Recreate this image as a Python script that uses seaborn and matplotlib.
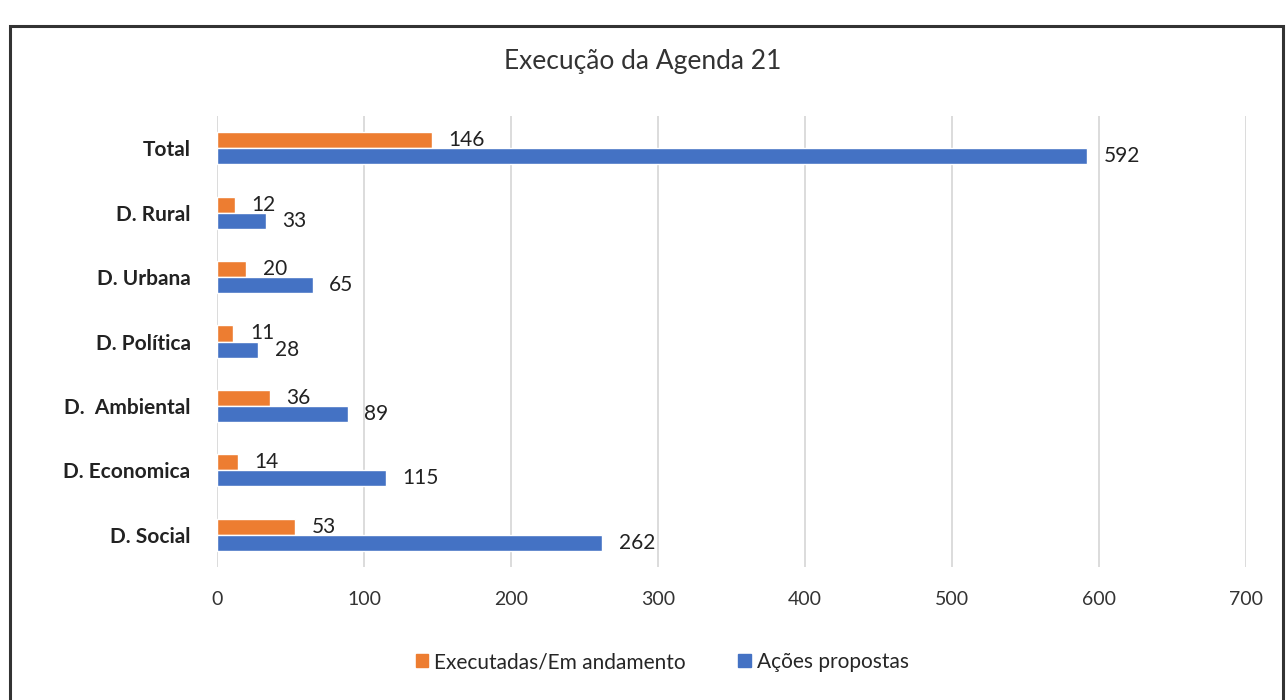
"""Execução da Agenda 21 - grouped horizontal bars."""
import matplotlib

matplotlib.use("Agg")
import matplotlib.pyplot as plt  # noqa: E402
import matplotlib.patches as mpatches  # noqa: E402
import pandas as pd  # noqa: E402
import seaborn as sns  # noqa: E402

categories = ["Total", "D. Rural", "D. Urbana", "D. Política",
              "D.  Ambiental", "D. Economica", "D. Social"]
executadas = [146, 12, 20, 11, 36, 14, 53]
propostas = [592, 33, 65, 28, 89, 115, 262]
series = ["Executadas/Em andamento", "Ações propostas"]
colors = ["#ED7D31", "#4472C4"]

df = pd.DataFrame({
    "cat": categories * 2,
    "val": executadas + propostas,
    "serie": [series[0]] * len(categories) + [series[1]] * len(categories),
})

sns.set_style("white")
plt.rcParams["font.family"] = ["Lato", "DejaVu Sans"]

fig = plt.figure(figsize=(12.86, 7.0), dpi=100)
# plot area: x 217..1246 px, y 116..567 px
ax = fig.add_axes([217 / 1286, 1 - 567 / 700, 1029 / 1286, 451 / 700])

sns.barplot(data=df, y="cat", x="val", hue="serie", order=categories,
            hue_order=series, palette=colors, orient="h", width=0.5,
            gap=0, saturation=1, legend=False, ax=ax)

for cont in ax.containers:
    ax.bar_label(cont, padding=12, fontsize=15, color="#222222")

ax.set_xlim(0, 700)
ax.set_xticks(range(0, 701, 100))
ax.set_xlabel("")
ax.set_ylabel("")
ax.grid(axis="x", color="#d9d9d9", lw=1.3)
ax.set_axisbelow(True)
for s in ax.spines.values():
    s.set_visible(False)
ax.tick_params(axis="x", length=0, pad=17, labelsize=14, labelcolor="#333333")
ax.tick_params(axis="y", length=0, pad=19, labelsize=15, labelcolor="#222222")
for t in ax.get_yticklabels():
    t.set_fontweight("bold")

fig.text(0.5, 0.912, "Execução da Agenda 21", ha="center", va="center",
         fontsize=19, color="#333333")

handles = [mpatches.Patch(color=c, label=s) for c, s in zip(colors, series)]
fig.legend(handles=handles, loc="center", bbox_to_anchor=(0.515, 0.054),
           ncol=2, frameon=False, fontsize=15, handlelength=0.6,
           handleheight=0.6, handletextpad=0.3, columnspacing=2.5)

fig.add_artist(mpatches.Rectangle((10 / 1286, -0.02), 1273 / 1286, 1.001 - 13 / 700,
                                  transform=fig.transFigure, fill=False,
                                  edgecolor="#333333", lw=2.2))

fig.savefig("out.png", dpi=100)
plt.close(fig)
